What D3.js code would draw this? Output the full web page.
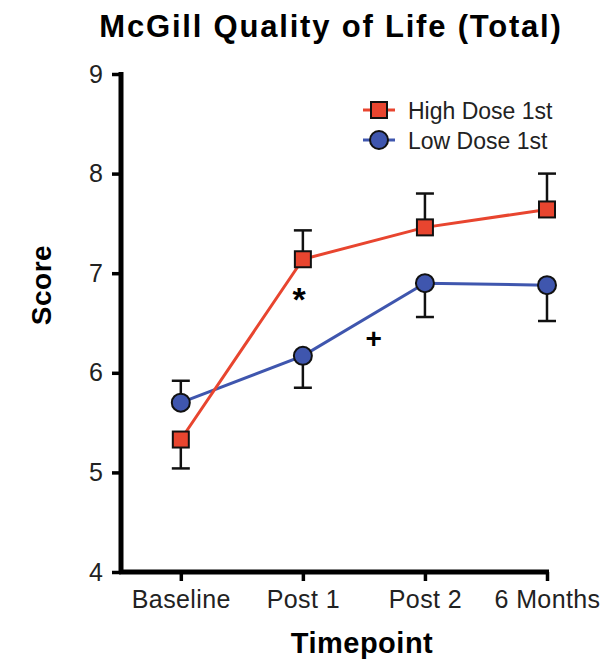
<!DOCTYPE html>
<html>
<head>
<meta charset="utf-8">
<script src="https://cdn.jsdelivr.net/npm/d3@7"></script>
<style>
  body { margin: 0; background: #fff; }
  text { font-family: "Liberation Sans", Arial, sans-serif; }
</style>
</head>
<body>
<div id="chart"></div>
<script>
const timepoints = ["Baseline", "Post 1", "Post 2", "6 Months"]
const highDose = [5.33, 7.14, 7.46, 7.64]
const highErr  = [-0.29, 0.29, 0.34, 0.36]   // sign = direction of bar
const lowDose  = [5.70, 6.17, 6.90, 6.88]
const lowErr   = [0.22, -0.32, -0.34, -0.36]
const yTicks = [4, 5, 6, 7, 8, 9]
const marks = [{label: "*", x: 0.97, y: 6.74, size: 34}, {label: "+", x: 1.58, y: 6.35, size: 28}]

const W = 608, H = 663
const margin = {top: 74, right: 61, bottom: 91, left: 121},
      width  = W - margin.left - margin.right,
      height = H - margin.top - margin.bottom

const x = d3.scaleLinear().domain([-0.49, 3]).range([0, width])
const y = d3.scaleLinear().domain([4, 9]).range([height, 0])

const red = "#e8452f", blue = "#3f56ae"

const svg = d3.select("#chart")
  .append("svg")
    .attr("width", W)
    .attr("height", H)
  .append("g")
    .attr("transform", "translate(" + margin.left + "," + margin.top + ")")

// title
svg.append("text")
  .attr("x", 210)
  .attr("y", -37)
  .attr("text-anchor", "middle")
  .style("font-size", "31px")
  .style("font-weight", "bold")
  .style("letter-spacing", "1.8px")
  .text("McGill Quality of Life (Total)")

// y axis
const gY = svg.append("g")
  .call(d3.axisLeft(y).tickValues(yTicks).tickFormat(d3.format("d")).tickSize(9).tickPadding(9))
gY.select(".domain").attr("d", "M0," + (height + 2) + "V-2").attr("stroke-width", 5)
gY.selectAll(".tick line").attr("stroke-width", 3.5)
gY.selectAll(".tick text").style("font-size", "25px").attr("fill", "#222")

// x axis
const gX = svg.append("g")
  .attr("transform", "translate(0," + height + ")")
  .call(d3.axisBottom(x).tickValues(d3.range(timepoints.length))
    .tickFormat(i => timepoints[i]).tickSize(9).tickPadding(9))
gX.select(".domain").attr("d", "M-2,0H" + (width + 2)).attr("stroke-width", 5)
gX.selectAll(".tick line").attr("stroke-width", 3.5)
gX.selectAll(".tick text").style("font-size", "25px").style("letter-spacing", "0.4px").attr("fill", "#222")

svg.append("text")
  .attr("x", 241)
  .attr("y", height + 81)
  .attr("text-anchor", "middle")
  .style("font-size", "29px")
  .style("font-weight", "bold")
  .style("letter-spacing", "0.5px")
  .text("Timepoint")

svg.append("text")
  .attr("transform", "rotate(-90)")
  .attr("x", -height / 2 + 38)
  .attr("y", -70)
  .attr("text-anchor", "middle")
  .style("font-size", "28px")
  .style("font-weight", "bold")
  .style("letter-spacing", "0.5px")
  .text("Score")

const line = d3.line().x((d, i) => x(i)).y(d => y(d))

function errorBars(vals, errs) {
  const g = svg.append("g")
  vals.forEach((v, i) => {
    const end = v + errs[i]
    g.append("line")
      .attr("x1", x(i)).attr("x2", x(i))
      .attr("y1", y(v)).attr("y2", y(end))
      .attr("stroke", "#111").attr("stroke-width", 2.5)
    g.append("line")
      .attr("x1", x(i) - 9).attr("x2", x(i) + 9)
      .attr("y1", y(end)).attr("y2", y(end))
      .attr("stroke", "#111").attr("stroke-width", 2.5)
  })
}

errorBars(highDose, highErr)
errorBars(lowDose, lowErr)

svg.append("path")
  .datum(lowDose)
  .attr("d", line)
  .attr("fill", "none")
  .attr("stroke", blue)
  .attr("stroke-width", 3)

svg.append("path")
  .datum(highDose)
  .attr("d", line)
  .attr("fill", "none")
  .attr("stroke", red)
  .attr("stroke-width", 3)

svg.selectAll(".low")
  .data(lowDose)
  .enter()
  .append("circle")
    .attr("cx", (d, i) => x(i))
    .attr("cy", d => y(d))
    .attr("r", 9)
    .attr("fill", blue)
    .attr("stroke", "#111")
    .attr("stroke-width", 2)

svg.selectAll(".high")
  .data(highDose)
  .enter()
  .append("rect")
    .attr("x", (d, i) => x(i) - 8)
    .attr("y", d => y(d) - 8)
    .attr("width", 16)
    .attr("height", 16)
    .attr("fill", red)
    .attr("stroke", "#111")
    .attr("stroke-width", 2)

// significance marks
svg.selectAll(".mark")
  .data(marks)
  .enter()
  .append("text")
    .attr("x", d => x(d.x))
    .attr("y", d => y(d.y))
    .attr("text-anchor", "middle")
    .attr("dy", "0.35em")
    .style("font-size", d => d.size + "px")
    .style("font-weight", "bold")
    .text(d => d.label)

// legend
const legend = svg.append("g").attr("transform", "translate(242,36)")
const items = [{name: "High Dose 1st", color: red, shape: "rect"},
               {name: "Low Dose 1st", color: blue, shape: "circle"}]
items.forEach((it, i) => {
  const g = legend.append("g").attr("transform", "translate(0," + i * 30 + ")")
  g.append("line").attr("x1", 0).attr("x2", 32).attr("y1", 0).attr("y2", 0)
    .attr("stroke", it.color).attr("stroke-width", 3)
  if (it.shape == "rect") {
    g.append("rect").attr("x", 8).attr("y", -8).attr("width", 16).attr("height", 16)
      .attr("fill", it.color).attr("stroke", "#111").attr("stroke-width", 2)
  } else {
    g.append("circle").attr("cx", 16).attr("cy", 0).attr("r", 9)
      .attr("fill", it.color).attr("stroke", "#111").attr("stroke-width", 2)
  }
  g.append("text").attr("x", 45).attr("y", 1).attr("dy", "0.35em")
    .style("font-size", "23px").attr("fill", "#222").text(it.name)
})
</script>
</body>
</html>
